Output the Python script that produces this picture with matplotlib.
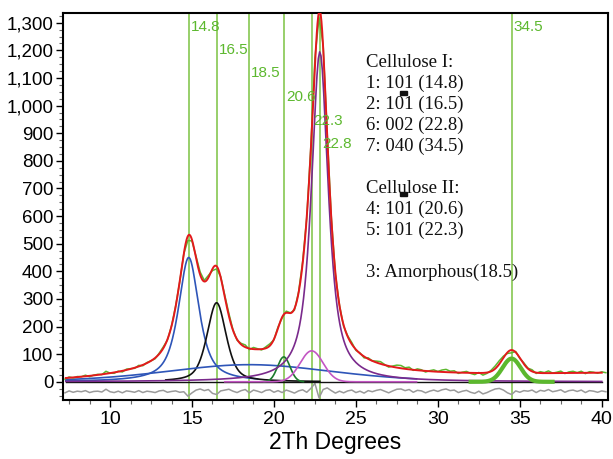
import numpy as np
import matplotlib
matplotlib.use("Agg")
import matplotlib.pyplot as plt
from matplotlib.ticker import MultipleLocator, FuncFormatter
from matplotlib.patches import Rectangle

plt.rcParams['font.family'] = ['Liberation Sans', 'DejaVu Sans']

# ---- peak-fit components ----
peak_centers = [14.8, 16.5, 18.5, 20.6, 22.3, 22.8, 34.5]
peak_heights = [450, 286, 62, 90, 112, 1195, 84]
peak_fwhm = [1.5, 1.38, 12.0, 0.9, 1.65, 1.22, 1.3]
peak_lorentz = [0.75, 0.5, 0.3, 0.0, 0.0, 0.82, 0.0]
peak_from = [7.3, 13.4, 7.3, 19.4, 17.0, 7.3, 32.0]
peak_to = [19.0, 22.8, 28.7, 21.8, 28.7, 40.0, 37.0]
peak_colors = ['#2e55b8', '#111111', '#2e55b8', '#1c7a2c', '#c356c3', '#7a2a8c', '#5cb82e']
peak_lw = [1.2, 1.2, 1.2, 1.2, 1.2, 1.2, 3.0]

# linear background at the two ends of the scan
background_x = [7.3, 40.0]
background_y = [0, 30]

# residual (observed - fit), sampled every 0.25 deg from 7.25
residual_start = 7.25
residual_step = 0.25
residual = [
    -4, 3, -2, 2,   0, 4, -3, 1,   2, -1, 9, 0,   -3, 2, -4, 3,
    1, -2, 4, -3,   2, 0, -3, 3,   5, -2, 1, 3,   -2, 0, -16, -4,
    6, 10, 4, 8,    -6, -10, 3, 6, 9, 2, -3, 4,   8, -4, 6, 2,
    -3, 5, 7, -2,   4, -3, 6, 1,   -5, 3, 7, -2,  12, 30, -22, 8,
    14, 4, -5, 2,   -4, 3, 6, -3,  2, -5, 4, 0,   5, 8, 2, -4,
    3, 9, 10, 4,    8, -2, 5, 3,   -4, 2, 6, 1,   7, 10, 4, 6,
    -3, 2, 5, -2,   -6, 2, -8, -3, 4, 10, 12, 6,  -4, -10, 3, -2,
    4, 2, 6, -3,    5, 2, 8, 0,    3, 7, -2, 4,   6, 1, 6, -3,
    4, 2, -2, 3,    0,
]
residual_offset = -36

# reference lines
line_positions = [14.8, 16.5, 18.5, 20.6, 22.3, 22.8, 34.5]
line_labels = ['14.8', '16.5', '18.5', '20.6', '22.3', '22.8', '34.5']
line_label_y = [1285, 1202, 1118, 1032, 945, 861, 1285]

legend_lines = ['Cellulose I:', '1: 101 (14.8)', '2: 101 (16.5)', '6: 002 (22.8)',
                '7: 040 (34.5)', '', 'Cellulose II:', '4: 101 (20.6)',
                '5: 101 (22.3)', '', '3: Amorphous(18.5)']


def pvoigt(x, c, h, w, eta):
    d = x - c
    lor = 1.0 / (1.0 + (2 * d / w) ** 2)
    gau = np.exp(-4 * np.log(2) * d ** 2 / w ** 2)
    return h * (eta * lor + (1 - eta) * gau)


def total_fit(x):
    y = np.interp(x, background_x, background_y)
    for c, h, w, e in zip(peak_centers, peak_heights, peak_fwhm, peak_lorentz):
        y = y + pvoigt(x, c, h, w, e)
    return y


fig = plt.figure(figsize=(6.13, 4.59), dpi=100)
ax = fig.add_axes([0.1028, 0.1285, 0.889, 0.843])

xmin, xmax = 7.13, 40.38
ymin, ymax = -66, 1335

# vertical reference lines
for xp, lab, ly in zip(line_positions, line_labels, line_label_y):
    ax.axvline(xp, color='#7cc243', lw=1.1, zorder=1)
    ax.text(xp + 0.12, ly, lab, color='#5cb82e', fontsize=11, va='center', ha='left', zorder=6)

# residual
xr = residual_start + residual_step * np.arange(len(residual))
res = np.array(residual, dtype=float)
ax.plot(xr, res + residual_offset, color='#9a9a9a', lw=1.1, zorder=2)

# zero line
ax.plot([7.3, 40.0], [0, 0], color='#111111', lw=1.0, zorder=2)

# components
for c, h, w, e, a, b, col, lw in zip(peak_centers, peak_heights, peak_fwhm, peak_lorentz,
                                      peak_from, peak_to, peak_colors, peak_lw):
    xx = np.linspace(a, b, 400)
    ax.plot(xx, pvoigt(xx, c, h, w, e), color=col, lw=lw, zorder=3)

# observed and fit
xo = xr[xr <= 40.4]
obs = total_fit(xo) + res[:len(xo)]
ax.plot(xo, obs, color='#5cb82e', lw=1.1, zorder=4)
xf = np.linspace(7.3, 40.0, 1500)
ax.plot(xf, total_fit(xf), color='#e3191c', lw=1.4, zorder=5)

# legend text block
for i, t in enumerate(legend_lines):
    if t:
        ax.text(0.556, 0.873 - i * 0.0543, t, transform=ax.transAxes, fontsize=13.5,
                family='Liberation Serif', va='center', ha='left', color='#111111')
for yb in [0.793, 0.532]:
    ax.add_patch(Rectangle((0.618, yb - 0.005), 0.0128, 0.010, transform=ax.transAxes,
                           color='#111111', zorder=7))

ax.set_xlim(xmin, xmax)
ax.set_ylim(ymin, ymax)
ax.xaxis.set_major_locator(MultipleLocator(5))
ax.xaxis.set_minor_locator(MultipleLocator(1.25))
ax.yaxis.set_major_locator(MultipleLocator(100))
ax.yaxis.set_minor_locator(MultipleLocator(25))
ax.yaxis.set_major_formatter(FuncFormatter(lambda v, p: f"{v:,.0f}"))
ax.tick_params(axis='y', which='major', labelsize=13.5, length=5, width=1, pad=2)
ax.tick_params(axis='x', which='major', labelsize=14, length=5, width=1, pad=3)
ax.tick_params(axis='both', which='minor', length=3, width=0.8, color='#666666')
for s in ax.spines.values():
    s.set_linewidth(1.5)
ax.set_xlabel('2Th Degrees', fontsize=16.5, labelpad=2)

fig.savefig('out.png', dpi=100)
